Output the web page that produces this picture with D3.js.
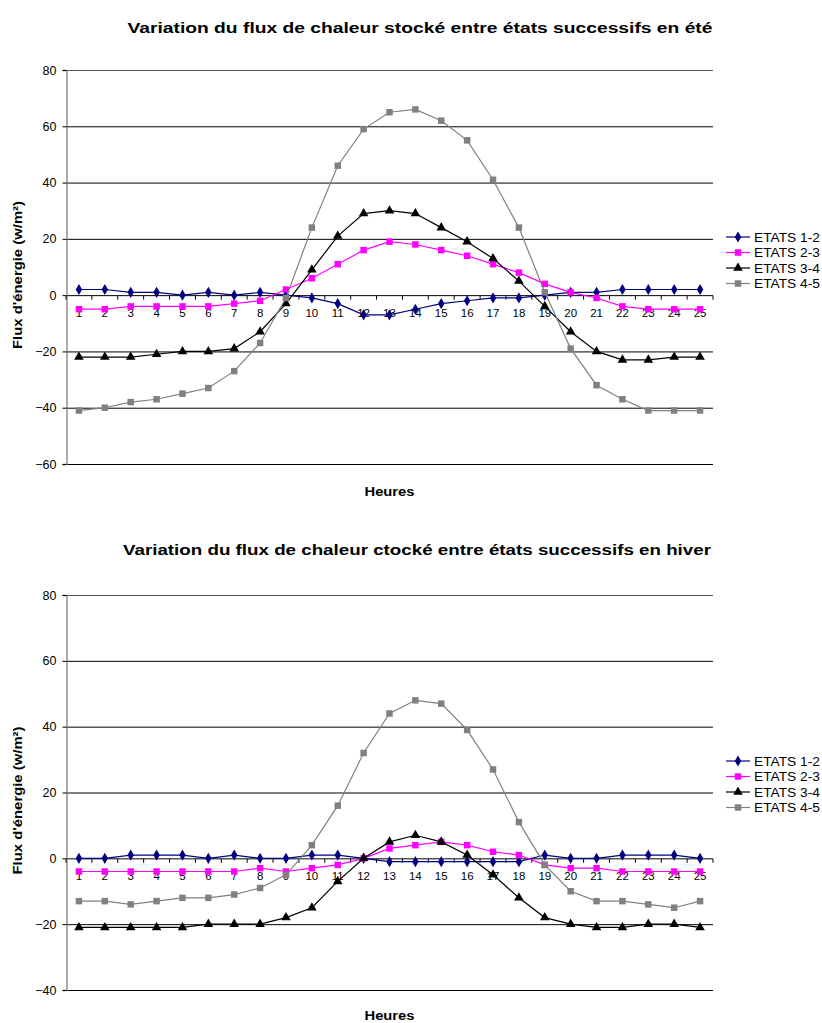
<!DOCTYPE html>
<html>
<head>
<meta charset="utf-8">
<script src="https://cdn.jsdelivr.net/npm/d3@7"></script>
<style>
  body { margin: 0; background: #fff; }
  svg { display: block; font-family: "Liberation Sans", Arial, sans-serif; }
</style>
</head>
<body>
<svg id="chart" width="822" height="1023"></svg>
<script>
// ---------- DATA ----------
const hours = d3.range(1, 26);
const seriesNames = ["ETATS 1-2", "ETATS 2-3", "ETATS 3-4", "ETATS 4-5"];

// Summer (été)
const ete_12 = [2, 2, 1, 1, 0, 1, 0, 1, 0, -1, -3, -7, -7, -5, -3, -2, -1, -1, 0, 1, 1, 2, 2, 2, 2];
const ete_23 = [-5, -5, -4, -4, -4, -4, -3, -2, 2, 6, 11, 16, 19, 18, 16, 14, 11, 8, 4, 1, -1, -4, -5, -5, -5];
const ete_34 = [-22, -22, -22, -21, -20, -20, -19, -13, -3, 9, 21, 29, 30, 29, 24, 19, 13, 5, -4, -13, -20, -23, -23, -22, -22];
const ete_45 = [-41, -40, -38, -37, -35, -33, -27, -17, -1, 24, 46, 59, 65, 66, 62, 55, 41, 24, 1, -19, -32, -37, -41, -41, -41];

// Winter (hiver)
const hiver_12 = [0, 0, 1, 1, 1, 0, 1, 0, 0, 1, 1, 0, -1, -1, -1, -1, -1, -1, 1, 0, 0, 1, 1, 1, 0];
const hiver_23 = [-4, -4, -4, -4, -4, -4, -4, -3, -4, -3, -2, 0, 3, 4, 5, 4, 2, 1, -2, -3, -3, -4, -4, -4, -4];
const hiver_34 = [-21, -21, -21, -21, -21, -20, -20, -20, -18, -15, -7, 0, 5, 7, 5, 1, -5, -12, -18, -20, -21, -21, -20, -20, -21];
const hiver_45 = [-13, -13, -14, -13, -12, -12, -11, -9, -5, 4, 16, 32, 44, 48, 47, 39, 27, 11, -2, -10, -13, -13, -14, -15, -13];

const eteTicks = [80, 60, 40, 20, 0, -20, -40, -60];
const hiverTicks = [80, 60, 40, 20, 0, -20, -40];

const titleEte = "Variation du flux de chaleur stocké entre états successifs en été";
const titleHiver = "Variation du flux de chaleur ctocké entre états successifs en hiver";
const yTitle = "Flux d'énergie (w/m²)";
const xTitle = "Heures";

// ---------- STYLES ----------
const colors = ["#000080", "#FF00FF", "#000000", "#808080"];
const shapes = [d3.symbolDiamond, d3.symbolSquare, d3.symbolTriangle, d3.symbolSquare];
const symSizes = [36, 42, 40, 42];

const svg = d3.select("#chart");

function drawChart(opt) {
  const g = svg.append("g");
  const x = d3.scaleBand().domain(hours).range([opt.left, opt.right]);
  const y = d3.scaleLinear().domain([opt.yMin, opt.yMax]).range([opt.bottom, opt.top]);

  // Title
  g.append("text").attr("x", opt.titleX).attr("y", opt.titleY)
    .attr("text-anchor", "middle").attr("font-size", 14.5).attr("font-weight", "bold")
    .attr("textLength", opt.titleLen).attr("lengthAdjust", "spacingAndGlyphs")
    .text(opt.title);

  // Gridlines
  g.append("g").selectAll("line").data(opt.ticks).join("line")
    .attr("x1", opt.left).attr("x2", opt.right)
    .attr("y1", d => y(d) + 0.5).attr("y2", d => y(d) + 0.5)
    .attr("stroke", d => d === opt.yMax ? "#555" : "#000").attr("stroke-width", 1);

  // Y axis
  const yAxis = d3.axisLeft(y).tickValues(opt.ticks).tickSize(4).tickPadding(6);
  const ya = g.append("g").attr("transform", `translate(${opt.left + 0.5},0)`).call(yAxis);
  ya.select(".domain").attr("stroke", "#808080").attr("stroke-width", 1.3);
  ya.selectAll(".tick line").attr("stroke", "#000");
  ya.selectAll(".tick text").attr("font-size", 12.5).attr("font-family", "Liberation Sans, Arial, sans-serif").attr("fill", "#000");

  // X axis at zero line with ticks between categories
  const y0 = y(0) + 0.5;
  const bounds = d3.range(0, hours.length + 1).map(i => opt.left + i * x.step());
  g.append("g").selectAll("line").data(bounds).join("line")
    .attr("x1", d => d).attr("x2", d => d).attr("y1", y0).attr("y2", y0 + 4)
    .attr("stroke", "#000");
  g.append("g").selectAll("text").data(hours).join("text")
    .attr("x", d => x(d) + x.bandwidth() / 2).attr("y", y0 + 21.5)
    .attr("text-anchor", "middle").attr("font-size", 11.5).attr("fill", "#000")
    .text(d => d);

  // Series
  const line = d3.line().x((d, i) => x(hours[i]) + x.bandwidth() / 2).y(d => y(d));
  opt.series.forEach((s, si) => {
    g.append("path").datum(s).attr("d", line)
      .attr("fill", "none").attr("stroke", colors[si]).attr("stroke-width", 1.2);
    g.append("g").selectAll("path").data(s).join("path")
      .attr("transform", (d, i) => `translate(${x(hours[i]) + x.bandwidth() / 2},${y(d)})`)
      .attr("d", d3.symbol().type(shapes[si]).size(symSizes[si]))
      .attr("fill", colors[si]);
  });

  // Y title
  g.append("text")
    .attr("transform", `translate(${opt.yTitleX},${(opt.top + opt.bottom) / 2 + 8}) rotate(-90)`)
    .attr("text-anchor", "middle").attr("font-size", 13.5).attr("font-weight", "bold")
    .attr("textLength", 148).attr("lengthAdjust", "spacingAndGlyphs")
    .text(yTitle);

  // X title
  g.append("text").attr("x", (opt.left + opt.right) / 2).attr("y", opt.xTitleY)
    .attr("text-anchor", "middle").attr("font-size", 13.5).attr("font-weight", "bold")
    .attr("textLength", 50).attr("lengthAdjust", "spacingAndGlyphs")
    .text(xTitle);

  // Legend
  const lg = g.append("g");
  seriesNames.forEach((name, si) => {
    const ly = opt.legendY + si * 15.5;
    lg.append("line").attr("x1", 726).attr("x2", 750).attr("y1", ly).attr("y2", ly)
      .attr("stroke", colors[si]).attr("stroke-width", 1.2);
    lg.append("path").attr("transform", `translate(738,${ly})`)
      .attr("d", d3.symbol().type(shapes[si]).size(symSizes[si])).attr("fill", colors[si]);
    lg.append("text").attr("x", 754).attr("y", ly + 4.5).attr("font-size", 12)
      .attr("textLength", 66).attr("lengthAdjust", "spacingAndGlyphs").text(name);
  });
}

drawChart({
  title: titleEte, titleX: 420, titleY: 33, titleLen: 585,
  left: 66, right: 713, top: 70, bottom: 464,
  yMin: -60, yMax: 80, ticks: eteTicks,
  series: [ete_12, ete_23, ete_34, ete_45],
  yTitleX: 22, xTitleY: 496, legendY: 237
});

drawChart({
  title: titleHiver, titleX: 417, titleY: 555, titleLen: 588,
  left: 66, right: 713, top: 595, bottom: 990,
  yMin: -40, yMax: 80, ticks: hiverTicks,
  series: [hiver_12, hiver_23, hiver_34, hiver_45],
  yTitleX: 22, xTitleY: 1020, legendY: 761
});
</script>
</body>
</html>
